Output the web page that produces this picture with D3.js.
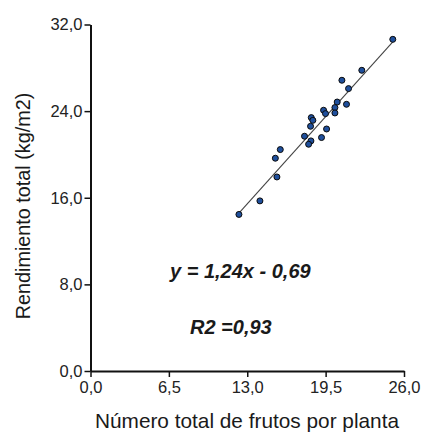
<!DOCTYPE html>
<html>
<head>
<meta charset="utf-8">
<script src="https://cdn.jsdelivr.net/npm/d3@7"></script>
<style>
  html, body { margin: 0; padding: 0; background: #fff; }
  svg { display: block; }
</style>
</head>
<body>
<svg id="chart" width="426" height="434"></svg>
<script>
// Número de frutos por planta (x) y rendimiento total en kg/m2 (y)
const frutos = [25.07, 22.50, 20.85, 21.40, 20.46, 21.23, 20.27, 20.27, 19.33, 19.49,
                18.31, 18.44, 18.25, 19.58, 17.75, 19.16, 18.28, 18.09, 15.74, 15.33,
                15.46, 14.05, 12.31];
const rendimiento = [30.63, 27.77, 26.85, 26.08, 24.84, 24.63, 24.33, 23.83, 24.08, 23.77,
                     23.40, 23.15, 22.60, 22.35, 21.68, 21.56, 21.25, 20.94, 20.45, 19.65,
                     17.92, 15.71, 14.46];

// Recta de regresión ajustada
const pendiente = 1.24;
const intercepto = -0.69;
const r2 = 0.93;

const xTicks = [0, 6.5, 13, 19.5, 26];
const yTicks = [0, 8, 16, 24, 32];

const xLabel = "Número total de frutos por planta";
const yLabel = "Rendimiento total (kg/m2)";

const svg = d3.select("#chart");
const font = "'Liberation Sans', Arial, sans-serif";
const coma = v => d3.format(".1f")(v).replace(".", ",");
const num2 = v => d3.format(".2f")(Math.abs(v)).replace(".", ",");

const x = d3.scaleLinear().domain([0, 26]).range([90.5, 404]);
const y = d3.scaleLinear().domain([0, 32]).range([371, 24.5]);

// Ejes
const gx = svg.append("g")
  .attr("transform", `translate(0,${y(0)})`)
  .call(d3.axisBottom(x).tickValues(xTicks).tickFormat(coma).tickSize(6).tickSizeOuter(0).tickPadding(4));
const gy = svg.append("g")
  .attr("transform", `translate(${x(0)},0)`)
  .call(d3.axisLeft(y).tickValues(yTicks).tickFormat(coma).tickSize(6).tickSizeOuter(0).tickPadding(2));

[gx, gy].forEach(g => {
  g.select(".domain").attr("stroke", "#111").attr("stroke-width", 2);
  g.selectAll(".tick line").attr("stroke", "#111").attr("stroke-width", 1.5);
  g.selectAll(".tick text")
    .attr("fill", "#222")
    .style("font-family", font)
    .style("font-size", "16.5px");
});

// Recta de regresión sobre el rango de los datos
const [xmin, xmax] = d3.extent(frutos);
svg.append("line")
  .attr("x1", x(xmin)).attr("y1", y(pendiente * xmin + intercepto))
  .attr("x2", x(xmax)).attr("y2", y(pendiente * xmax + intercepto))
  .attr("stroke", "#444")
  .attr("stroke-width", 1.1);

// Puntos observados
svg.append("g")
  .selectAll("circle")
  .data(frutos.map((f, i) => [f, rendimiento[i]]))
  .join("circle")
  .attr("cx", d => x(d[0]))
  .attr("cy", d => y(d[1]))
  .attr("r", 3)
  .attr("fill", "#1f4f9c")
  .attr("stroke", "#0a0a0a")
  .attr("stroke-width", 1);

// Ecuación y coeficiente de determinación
const eqStyle = sel => sel
  .style("font-family", font)
  .style("font-size", "20px")
  .style("font-weight", "bold")
  .style("font-style", "italic")
  .attr("fill", "#1a1a1a");

svg.append("text")
  .attr("x", 170).attr("y", 278)
  .call(eqStyle)
  .text(`y = ${num2(pendiente)}x ${intercepto < 0 ? "-" : "+"} ${num2(intercepto)}`);

svg.append("text")
  .attr("x", 190).attr("y", 334)
  .call(eqStyle)
  .text(`R2 =${num2(r2)}`);

// Títulos de los ejes
svg.append("text")
  .attr("x", 247).attr("y", 428)
  .attr("text-anchor", "middle")
  .style("font-family", font)
  .style("font-size", "20.8px")
  .attr("fill", "#1a1a1a")
  .text(xLabel);

svg.append("text")
  .attr("transform", "translate(30,206) rotate(-90)")
  .attr("text-anchor", "middle")
  .style("font-family", font)
  .style("font-size", "19.8px")
  .attr("fill", "#1a1a1a")
  .text(yLabel);
</script>
</body>
</html>
